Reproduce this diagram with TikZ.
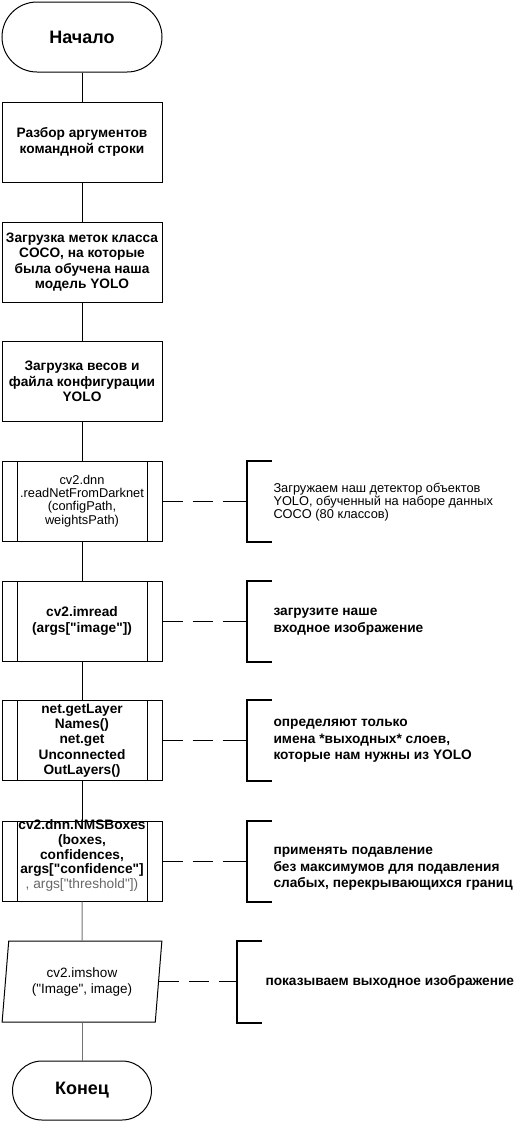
\documentclass[tikz,border=0pt]{standalone}
\usepackage{fontspec}
\setmainfont{Liberation Sans}
\usetikzlibrary{calc}
\usetikzlibrary{positioning,shapes.geometric,calc}

\begin{document}
\begin{tikzpicture}[x=1pt, y=-1pt, line width=1pt,
  term/.style={draw, rectangle, rounded corners=#1, inner sep=0pt, font=\bfseries\fontsize{18}{21}\selectfont},
  proc/.style={draw, rectangle, minimum width=160pt, minimum height=80pt, inner sep=0pt, align=center, font=\bfseries\fontsize{13.7}{15.6}\selectfont},
  sub/.style={proc, path picture={
      \draw ([xshift=15pt]path picture bounding box.north west) -- ([xshift=15pt]path picture bounding box.south west);
      \draw ([xshift=-15pt]path picture bounding box.north east) -- ([xshift=-15pt]path picture bounding box.south east);}},
  io/.style={draw, trapezium, trapezium left angle=81, trapezium right angle=99, trapezium stretches=true,
      minimum width=160pt, minimum height=81pt, inner sep=0pt, align=center, font=\fontsize{13.5}{16}\selectfont},
  note/.style={anchor=west, align=left, inner sep=0pt, font=\bfseries\fontsize{13.7}{16.7}\selectfont},
  bracket/.style={line width=2pt},
  dashlink/.style={dash pattern=on 20pt off 10pt on 20pt off 10pt on 40pt off 0pt},
  flowgray/.style={draw=black!55}]

\useasboundingbox (0,0) rectangle (518,1122);

% Main flow
\node[term=35pt, minimum width=160pt, minimum height=70pt] (start) at (82,37) {Начало};
\node[proc] (args) at (82,142) {Разбор аргументов\\командной строки};
\node[proc] (labels) at (82,262) {Загрузка меток класса\\COCO, на которые\\была обучена наша\\модель YOLO};
\node[proc] (weights) at (82,381.5) {Загрузка весов и\\файла конфигурации\\YOLO};

% Subroutine blocks
\node[sub, font=\fontsize{12.8}{13.3}\selectfont] (darknet) at (82,501) {cv2.dnn\\.readNetFromDarknet\\(configPath,\\weightsPath)};
\node[sub] (imread) at (82,621) {cv2.imread\\(args[\textquotedbl image\textquotedbl])};
\node[sub, font=\bfseries\fontsize{13.7}{15.4}\selectfont] (layers) at (82,740.5) {net.getLayer\\Names()\\net.get\\Unconnected\\OutLayers()};
\node[sub] (nms) at (82,861) {};
\node[align=center, inner sep=0pt, font=\bfseries\fontsize{13.7}{14.8}\selectfont] (nmstext) at (82,855.5)
  {cv2.dnn.NMSBoxes\\(boxes,\\confidences,\\args[\textquotedbl confidence\textquotedbl]\\{\mdseries\color{black!60}, args[\textquotedbl threshold\textquotedbl])}};

% Output and end
\node[io] (imshow) at (82,981.5) {cv2.imshow\\(\textquotedbl Image\textquotedbl, image)};
\node[term=29.5pt, minimum width=139pt, minimum height=59pt] (stop) at (82,1090.5) {Конец};

% Connectors
\foreach \a/\b in {start/args, args/labels, labels/weights, weights/darknet, darknet/imread, imread/layers, layers/nms} {
  \draw (\a) -- (\b);
}
\draw[flowgray] (nms) -- (imshow);
\draw[flowgray] (imshow) -- (stop);

% Annotation brackets
\foreach \b/\bx in {darknet/247, imread/247, layers/247, nms/247, imshow/237} {
  \coordinate (br\b) at (\bx,0);
  \draw[dashlink] (\b.east) -- (\b.east -| br\b);
  \draw[bracket] ($(\b.north -| br\b)+(25,0)$) -- (\b.north -| br\b) -- (\b.south -| br\b) -- ++(25,0);
}

% Annotation texts
\node[note, font=\fontsize{12.8}{13.3}\selectfont] (note1) at (273,502) {Загружаем наш детектор объектов\\YOLO, обученный на наборе данных\\COCO (80 классов)};
\node[note] (note2) at (273,622) {загрузите наше\\входное изображение};
\node[note] (note3) at (273,741) {определяют только\\имена *выходных* слоев,\\которые нам нужны из YOLO};
\node[note] (note4) at (273,869) {применять подавление\\без максимумов для подавления\\слабых, перекрывающихся границ};
\node[note] (note5) at (265,982) {показываем выходное изображение};

\end{tikzpicture}
\end{document}
